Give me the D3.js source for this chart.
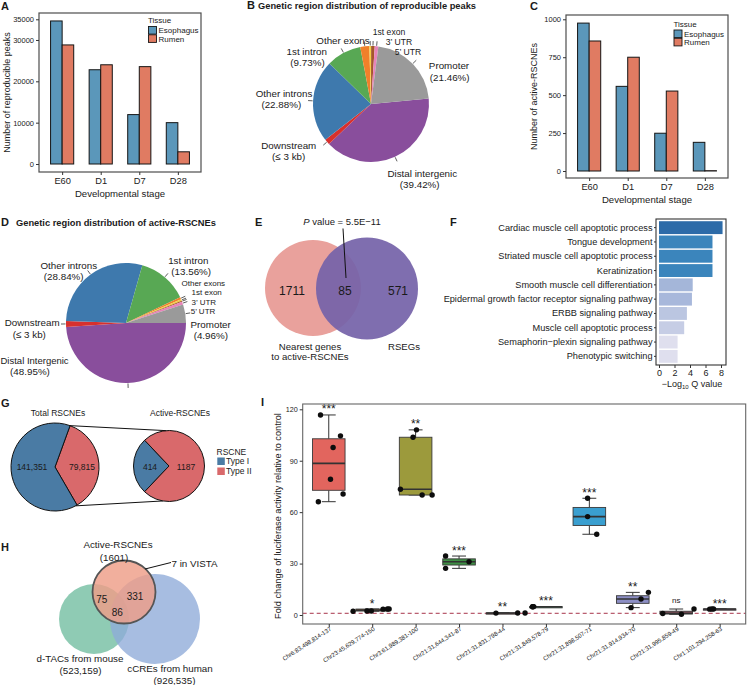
<!DOCTYPE html>
<html><head><meta charset="utf-8">
<script src="https://cdn.jsdelivr.net/npm/d3@7"></script>
<style>
body{margin:0;background:#fff}
svg{display:block}
text{font-family:"Liberation Sans",Arial,Helvetica,sans-serif;fill:#1a1a1a}
</style>
</head><body>
<svg id="c" width="754" height="685"></svg>
<script>
// ================= DATA =================
// A / C : bar charts
const stages = ["E60", "D1", "D7", "D28"];
const tissues = ["Esophagus", "Rumen"];
const peaksEsophagus = [34600, 22800, 11950, 10000];
const peaksRumen = [28800, 24000, 23550, 2950];
const peakTicks = [0, 10000, 20000, 30000, 35000];
const rscneEsophagus = [975, 558, 249, 189];
const rscneRumen = [857, 750, 527, 2];
const rscneTicks = [0, 250, 500, 750, 1000];

// B / D : genomic region pies
const regionNames = ["Distal intergenic", "Downstream", "Other introns", "1st intron", "Other exons", "1st exon", "3' UTR", "5' UTR", "Promoter"];
const peakRegionPct = [39.42, 1.5, 22.88, 9.73, 2.5, 0.5, 1.0, 1.0, 21.46];
const activeRegionPct = [48.95, 1.6, 28.84, 13.56, 0.6, 0.4, 0.3, 0.79, 4.96];

// E : Venn
const vennECounts = [1711, 85, 571];
const vennESets = ["Nearest genes|to active-RSCNEs", "RSEGs"];
const vennEP = "5.5E\u221211";

// F : GO enrichment
const goTerms = ["Cardiac muscle cell apoptotic process", "Tongue development", "Striated muscle cell apoptotic process", "Keratinization", "Smooth muscle cell differentiation", "Epidermal growth factor receptor signaling pathway", "ERBB signaling pathway", "Muscle cell apoptotic process", "Semaphorin\u2212plexin signaling pathway", "Phenotypic switching"];
const goLogQ = [8.2, 6.9, 6.9, 6.9, 4.35, 4.25, 3.6, 3.25, 2.4, 2.4];
const goTicks = [0, 2, 4, 6, 8];

// G : RSCNE types
const rscneTypes = ["Type I", "Type II"];
const totalRscne = [141351, 79815];
const activeRscne = [414, 1187];

// H : three-way Venn
const vennHSets = ["Active-RSCNEs|(1601)", "d-TACs from mouse|(523,159)", "cCREs from human|(926,535)"];
const vennHCounts = [75, 331, 86];
const vistaNote = "7 in VISTA";

// I : luciferase assay
const constructs = ["Chr6:83,498,814-137", "Chr23:45,629,774-150", "Chr3:61,989,381-100", "Chr21:31,644,341-87", "Chr21:31,831,798-44", "Chr21:31,849,578-79", "Chr21:31,898,507-71", "Chr21:31,914,934-70", "Chr21:31,995,859-49", "Chr1:101,294,258-63"];
const foldChange = [
  [116.7, 104.5, 97.7, 79.2, 70.6, 66.1],
  [2.2, 2.3, 2.3, 3.4, 3.5, 3.5],
  [108, 103.7, 73.4, 70, 70],
  [34.4, 31.1, 27.2],
  [1.1, 1.2, 1.2],
  [4.8, 4.85, 4.9],
  [68.1, 57.4, 47.1],
  [13.2, 9.3, 4.3],
  [0.9, 0.4, 3.5],
  [3.4, 3.5, 3.5]
];
const jitterUnits = [
  [-0.19, 0.27, 0.10, 0.04, 0.33, -0.24],
  [-0.44, -0.12, -0.02, 0.25, 0.35, 0.39],
  [0.02, -0.06, -0.35, 0.15, 0.38],
  [-0.31, 0.23, -0.31],
  [-0.15, 0.35, 0.52],
  [-0.31, -0.30, -0.28],
  [-0.04, -0.04, 0.17],
  [0.36, 0.19, -0.04],
  [-0.31, 0.12, 0.41],
  [-0.23, -0.14, -0.18]
];
const significance = ["***", "*", "**", "***", "**", "***", "***", "**", "ns", "***"];
const foldTicks = [0, 30, 60, 90, 120];
const controlLevel = 1;

// ================= STYLE =================
const tissueColors = ["#5b97ba", "#e07b62"];
const regionColors = ["#894e9c", "#d8302d", "#3e79ad", "#58a854", "#f0802a", "#f3cf45", "#a4572c", "#e784b9", "#9a9a9a"];
const typeColors = ["#4a7ba4", "#d9696b"];
const boxColors = ["#e2655e", "#c9853a", "#9c9a3c", "#3f8f45", "#a34a4a", "#4d9a6a", "#3a9fd0", "#8c8ec4", "#7d4d57", "#c06090"];
const FONT = '"Liberation Sans", Arial, Helvetica, sans-serif';

const svg = d3.select("#c");

function txt(g, x, y, s, o = {}) {
  const t = g.append("text").attr("x", x).attr("y", y).text(s)
    .attr("font-size", o.size || 9).attr("text-anchor", o.anchor || "start");
  if (o.weight) t.attr("font-weight", o.weight);
  if (o.style) t.attr("font-style", o.style);
  if (o.rotate != null) t.attr("transform", `rotate(${o.rotate},${x},${y})`);
  return t;
}
function styleAxis(ax, size) {
  ax.attr("font-family", FONT).attr("font-size", size);
  ax.selectAll("text").attr("fill", "#222");
  ax.selectAll("line").attr("stroke", "#333");
  ax.select(".domain").remove();
}

// ================= PANEL A / C =================
function barPanel(cfg) {
  const g = svg.append("g");
  const x = d3.scalePoint().domain(stages).range([cfg.x0, cfg.x1]).padding(0.6);
  const u = x.step();
  const y = d3.scaleLinear().domain([0, cfg.top]).range([cfg.yZero, cfg.yTop]);
  [cfg.eso, cfg.rum].forEach((vals, si) => {
    g.selectAll(null).data(stages).join("rect")
      .attr("x", d => x(d) - 0.3 * u + si * 0.3 * u)
      .attr("width", 0.3 * u)
      .attr("y", (d, i) => y(vals[i]))
      .attr("height", (d, i) => Math.max(0.3, y(0) - y(vals[i])))
      .attr("fill", tissueColors[si]).attr("stroke", "#151515").attr("stroke-width", 1);
  });
  g.append("rect").attr("x", cfg.x0).attr("y", cfg.fy0).attr("width", cfg.x1 - cfg.x0).attr("height", cfg.fy1 - cfg.fy0)
    .attr("fill", "none").attr("stroke", "#4d4d4d").attr("stroke-width", 1.2);
  const ay = g.append("g").attr("transform", `translate(${cfg.x0},0)`)
    .call(d3.axisLeft(y).tickValues(cfg.ticks).tickSize(3).tickPadding(2).tickFormat(d3.format("d")));
  styleAxis(ay, 7.5);
  const ax = g.append("g").attr("transform", `translate(0,${cfg.fy1})`)
    .call(d3.axisBottom(x).tickSize(3).tickPadding(2));
  styleAxis(ax, 9.3);
  ax.selectAll("text").attr("dy", "0.75em");
  txt(g, (cfg.x0 + cfg.x1) / 2, cfg.xTitleY, "Developmental stage", { size: 9.6, anchor: "middle" });
  txt(g, cfg.yTitleX, (cfg.fy0 + cfg.fy1) / 2, cfg.yTitle, { size: 9, anchor: "middle", rotate: -90 });
  txt(g, cfg.lx, cfg.ly, "Tissue", { size: 8 });
  tissues.forEach((t, i) => {
    g.append("rect").attr("x", cfg.lx + 0.5).attr("y", cfg.ly + 3.5 + i * 8.3).attr("width", 8).attr("height", 7.6)
      .attr("fill", tissueColors[i]).attr("stroke", "#151515").attr("stroke-width", 0.9);
    txt(g, cfg.lx + 10.5, cfg.ly + 10.3 + i * 8.3, t, { size: 8 });
  });
}
barPanel({ x0: 39, x1: 201, fy0: 13, fy1: 172, yZero: 164, yTop: 19.3, top: 35000, ticks: peakTicks,
  eso: peaksEsophagus, rum: peaksRumen, xTitleY: 196.5, yTitleX: 9.5, yTitle: "Number of reproducible peaks", lx: 148, ly: 23 });
barPanel({ x0: 566, x1: 728, fy0: 15, fy1: 178, yZero: 171, yTop: 19.3, top: 1000, ticks: rscneTicks,
  eso: rscneEsophagus, rum: rscneRumen, xTitleY: 203, yTitleX: 536.5, yTitle: "Number of active-RSCNEs", lx: 673.5, ly: 26.5 });

// panel letters
txt(svg, 1, 10, "A", { size: 11, weight: "bold" });
txt(svg, 530, 10, "C", { size: 11, weight: "bold" });
txt(svg, 1, 226, "D", { size: 11, weight: "bold" });
txt(svg, 255, 226, "E", { size: 11, weight: "bold" });
txt(svg, 450, 226, "F", { size: 11, weight: "bold" });
txt(svg, 1, 407, "G", { size: 11, weight: "bold" });
txt(svg, 1, 551, "H", { size: 11, weight: "bold" });
txt(svg, 261, 406, "I", { size: 11, weight: "bold" });

// ================= PANEL B / D =================
function regionPie(cfg) {
  const g = svg.append("g");
  const arcs = d3.pie().sort(null).value(d => d)
    .startAngle(cfg.start * Math.PI / 180).endAngle((cfg.start + 360) * Math.PI / 180)(cfg.values);
  const arc = d3.arc().innerRadius(0).outerRadius(cfg.r);
  g.append("g").attr("transform", `translate(${cfg.cx},${cfg.cy})`)
    .selectAll("path").data(arcs).join("path").attr("d", arc).attr("fill", (d, i) => regionColors[i]);
  arcs.forEach((a, i) => {
    const m = (a.startAngle + a.endAngle) / 2;
    const r1 = cfg.r + 0.5, r2 = cfg.r + 5;
    g.append("line")
      .attr("x1", cfg.cx + r1 * Math.sin(m)).attr("y1", cfg.cy - r1 * Math.cos(m))
      .attr("x2", cfg.cx + r2 * Math.sin(m)).attr("y2", cfg.cy - r2 * Math.cos(m))
      .attr("stroke", "#333").attr("stroke-width", 0.8);
  });
  cfg.labels.forEach(l => txt(g, l[1], l[2], l[0], { size: l[4] || 9.8, anchor: l[3] || "middle" }));
  txt(g, cfg.tx, cfg.ty, cfg.title, { size: 9.3, weight: "bold" });
}
const pct = v => `(${v.toFixed(2)}%)`;
regionPie({ cx: 371, cy: 104, r: 58, start: 84.6, values: peakRegionPct,
  tx: 258, ty: 9, title: "Genetic region distribution of reproducible peaks",
  labels: [["1st exon", 389, 35, "middle", 8.6], ["3\u2019 UTR", 399, 45, "middle", 8.6], ["5\u2019 UTR", 408, 55, "middle", 8.6], ["Other exons", 343, 44],
    ["1st intron", 306.7, 54.5], [pct(peakRegionPct[3]), 307.5, 66], ["Other introns", 284, 97], [pct(peakRegionPct[2]), 281.3, 108],
    ["Downstream", 288.8, 149], ["(\u2264 3 kb)", 288.7, 160], ["Distal intergenic", 422.3, 177], [pct(peakRegionPct[0]), 419.7, 188],
    ["Promoter", 449, 69], [pct(peakRegionPct[8]), 449.7, 81]] });
txt(svg, 247, 9, "B", { size: 11, weight: "bold" });
regionPie({ cx: 126, cy: 323, r: 60, start: 90, values: activeRegionPct,
  tx: 16, ty: 225.5, title: "Genetic region distribution of active-RSCNEs",
  labels: [["Other introns", 68.8, 268.5], [pct(activeRegionPct[2]), 63.7, 279.5], ["1st intron", 188.3, 263.5], [pct(activeRegionPct[3]), 191.2, 274.5],
    ["Other exons", 203.3, 286, "middle", 8], ["1st exon", 206.7, 295.4, "middle", 8], ["3\u2019 UTR", 203.8, 304.8, "middle", 8], ["5\u2019 UTR", 203, 314.2, "middle", 8],
    ["Promoter", 210.7, 327.5], [pct(activeRegionPct[8]), 210.8, 338.5], ["Downstream", 32.2, 326.2], ["(\u2264 3 kb)", 29.3, 337.5],
    ["Distal Intergenic", 0.5, 363.5, "start", 9.5], [pct(activeRegionPct[0]), 30, 375]] });

// ================= PANEL E =================
(function () {
  const g = svg.append("g");
  g.append("circle").attr("cx", 313).attr("cy", 288).attr("r", 48).attr("fill", "#e9a19c");
  g.append("circle").attr("cx", 367).attr("cy", 288.5).attr("r", 51).attr("fill", "#7563a9").attr("fill-opacity", 0.93);
  const xs = [292, 345, 398];
  vennECounts.forEach((c, i) => txt(g, xs[i], 294.5, String(c), { size: 12, anchor: "middle" }));
  const t = g.append("text").attr("x", 342).attr("y", 225).attr("font-size", 9.5).attr("text-anchor", "middle");
  t.append("tspan").attr("font-style", "italic").text("P");
  t.append("tspan").text(" value = " + vennEP);
  g.append("line").attr("x1", 343).attr("y1", 228.5).attr("x2", 346).attr("y2", 278).attr("stroke", "#111").attr("stroke-width", 1);
  const l1 = vennESets[0].split("|");
  txt(g, 310, 349.5, l1[0], { size: 9.6, anchor: "middle" });
  txt(g, 310, 360, l1[1], { size: 9.6, anchor: "middle" });
  txt(g, 404, 349.5, vennESets[1], { size: 9.6, anchor: "middle" });
})();

// ================= PANEL F =================
(function () {
  const g = svg.append("g");
  const x = d3.scaleLinear().domain([0, 8]).range([659, 721]);
  const y = d3.scaleBand().domain(goTerms).range([220.5, 363.5]).paddingInner(0.1).paddingOuter(0.05);
  const col = d3.scaleLinear().domain([2.4, 4.3, 6.9, 8.2]).range(["#dfdfee", "#a6b7da", "#3b85bc", "#2d6ba8"]);
  g.selectAll("rect.bar").data(goTerms).join("rect")
    .attr("x", x(0)).attr("y", d => y(d)).attr("height", y.bandwidth())
    .attr("width", (d, i) => x(goLogQ[i]) - x(0)).attr("fill", (d, i) => col(goLogQ[i]));
  g.append("rect").attr("x", 656).attr("y", 219).attr("width", 70).attr("height", 146)
    .attr("fill", "none").attr("stroke", "#333").attr("stroke-width", 1.1);
  const ax = g.append("g").attr("transform", "translate(0,365)").call(d3.axisBottom(x).tickValues(goTicks).tickSize(3).tickPadding(1.5));
  styleAxis(ax, 9);
  const ay = g.append("g").attr("transform", "translate(656,0)").call(d3.axisLeft(y).tickSize(2).tickPadding(1.5));
  styleAxis(ay, 9.2);
  const t = g.append("text").attr("x", 692).attr("y", 387).attr("font-size", 9).attr("text-anchor", "middle");
  t.append("tspan").text("\u2212Log");
  t.append("tspan").attr("font-size", 6).attr("dy", 2).text("10");
  t.append("tspan").attr("dy", -2).text(" Q value");
})();

// ================= PANEL G =================
(function () {
  const g = svg.append("g");
  const arc = d3.arc().innerRadius(0);
  function typePie(cx, cy, r, values, order, start) {
    const vals = order.map(i => values[i]);
    const arcs = d3.pie().sort(null).value(d => d)
      .startAngle(start * Math.PI / 180).endAngle((start + 360) * Math.PI / 180)(vals);
    const gg = g.append("g").attr("transform", `translate(${cx},${cy})`);
    gg.selectAll("path").data(arcs).join("path").attr("d", d => arc.outerRadius(r)(d))
      .attr("fill", (d, i) => typeColors[order[i]]).attr("stroke", "#111").attr("stroke-width", 1);
    return arcs;
  }
  typePie(55, 467, 44, totalRscne, [1, 0], 20);
  typePie(169, 466, 35.5, activeRscne, [0, 1], 223.5);
  const p = (cx, cy, r, deg) => [cx + r * Math.sin(deg * Math.PI / 180), cy - r * Math.cos(deg * Math.PI / 180)];
  const a1 = p(55, 467, 44, 20), b1 = p(169, 466, 35.5, -5);
  const a2 = p(55, 467, 44, 152), b2 = p(169, 466, 35.5, 190);
  [[a1, b1], [a2, b2]].forEach(([a, b]) => g.append("line").attr("x1", a[0]).attr("y1", a[1]).attr("x2", b[0]).attr("y2", b[1])
    .attr("stroke", "#111").attr("stroke-width", 1));
  const fmt = d3.format(",");
  txt(g, 32, 470, fmt(totalRscne[0]), { size: 8.5, anchor: "middle" });
  txt(g, 82, 470, fmt(totalRscne[1]), { size: 8.5, anchor: "middle" });
  txt(g, 150, 470, String(activeRscne[0]), { size: 8.5, anchor: "middle" });
  txt(g, 186, 470, String(activeRscne[1]), { size: 8.5, anchor: "middle" });
  txt(g, 58, 416, "Total RSCNEs", { size: 8.5, anchor: "middle" });
  txt(g, 180, 416, "Active-RSCNEs", { size: 8.5, anchor: "middle" });
  txt(g, 216.5, 454.5, "RSCNE", { size: 8.5 });
  rscneTypes.forEach((t, i) => {
    g.append("rect").attr("x", 217.3).attr("y", 457.5 + i * 10).attr("width", 7.5).attr("height", 7.5).attr("fill", typeColors[i]);
    txt(g, 226, 464.2 + i * 10, t, { size: 8.5 });
  });
})();

// ================= PANEL H =================
(function () {
  const g = svg.append("g");
  g.append("circle").attr("cx", 94).attr("cy", 619).attr("r", 35).attr("fill", "#8fcbb4");
  g.append("circle").attr("cx", 155).attr("cy", 619).attr("r", 45).attr("fill", "#8eaad8").attr("fill-opacity", 0.78);
  g.append("circle").attr("cx", 124).attr("cy", 592).attr("r", 31.5).attr("fill", "#ee9e88").attr("fill-opacity", 0.82)
    .attr("stroke", "#555").attr("stroke-width", 1.8);
  txt(g, 101.7, 602.5, String(vennHCounts[0]), { size: 10, anchor: "middle" });
  txt(g, 135, 599.5, String(vennHCounts[1]), { size: 10, anchor: "middle" });
  txt(g, 117.3, 615.5, String(vennHCounts[2]), { size: 10, anchor: "middle" });
  const s0 = vennHSets[0].split("|"), s1 = vennHSets[1].split("|"), s2 = vennHSets[2].split("|");
  txt(g, 118, 548, s0[0], { size: 9.8, anchor: "middle" });
  txt(g, 114, 560.5, s0[1], { size: 9.8, anchor: "middle" });
  txt(g, 80, 662, s1[0], { size: 9.8, anchor: "middle" });
  txt(g, 80.5, 673.5, s1[1], { size: 9.8, anchor: "middle" });
  txt(g, 170, 672, s2[0], { size: 9.8, anchor: "middle" });
  txt(g, 174.5, 683.5, s2[1], { size: 9.8, anchor: "middle" });
  g.append("line").attr("x1", 145).attr("y1", 569).attr("x2", 171).attr("y2", 562.5).attr("stroke", "#111").attr("stroke-width", 1);
  txt(g, 171.5, 567, vistaNote, { size: 9.8 });
})();

// ================= PANEL I =================
(function () {
  const g = svg.append("g");
  const X0 = 302.7, X1 = 745.7, Y0 = 404, Y1 = 624;
  const x = d3.scalePoint().domain(constructs).range([X0, X1]).padding(0.6);
  const u = x.step();
  const y = d3.scaleLinear().domain([0, 120]).range([615, 409.3]);
  g.append("line").attr("x1", X0).attr("x2", X1).attr("y1", y(controlLevel)).attr("y2", y(controlLevel))
    .attr("stroke", "#a8344a").attr("stroke-width", 1).attr("stroke-dasharray", "4,3");
  constructs.forEach((c, i) => {
    const v = foldChange[i].slice().sort(d3.ascending);
    const q1 = d3.quantile(v, 0.25), med = d3.quantile(v, 0.5), q3 = d3.quantile(v, 0.75);
    const iqr = q3 - q1;
    const lo = d3.min(v.filter(d => d >= q1 - 1.5 * iqr)), hi = d3.max(v.filter(d => d <= q3 + 1.5 * iqr));
    const cx = x(c), bw = 0.75 * u, cw = 0.32 * u;
    const gg = g.append("g");
    gg.append("line").attr("x1", cx).attr("x2", cx).attr("y1", y(hi)).attr("y2", y(q3)).attr("stroke", "#333").attr("stroke-width", 1);
    gg.append("line").attr("x1", cx).attr("x2", cx).attr("y1", y(q1)).attr("y2", y(lo)).attr("stroke", "#333").attr("stroke-width", 1);
    [hi, lo].forEach(w => gg.append("line").attr("x1", cx - cw / 2).attr("x2", cx + cw / 2).attr("y1", y(w)).attr("y2", y(w))
      .attr("stroke", "#333").attr("stroke-width", 1));
    gg.append("rect").attr("x", cx - bw / 2).attr("width", bw).attr("y", y(q3)).attr("height", Math.max(1.2, y(q1) - y(q3)))
      .attr("fill", boxColors[i]).attr("stroke", "#3a3a3a").attr("stroke-width", 0.9);
    gg.append("line").attr("x1", cx - bw / 2).attr("x2", cx + bw / 2).attr("y1", y(med)).attr("y2", y(med))
      .attr("stroke", "#333").attr("stroke-width", 1.6);
    gg.selectAll("circle").data(foldChange[i]).join("circle")
      .attr("cx", (d, k) => cx + jitterUnits[i][k] * u).attr("cy", d => y(d)).attr("r", 2.7).attr("fill", "#0d0d0d");
    const mx = d3.max(v);
    if (significance[i] === "ns") txt(gg, cx, y(mx) - 6, "ns", { size: 8, anchor: "middle" });
    else txt(gg, cx, y(mx) - 1.5, significance[i], { size: 12, anchor: "middle" });
  });
  g.append("rect").attr("x", X0).attr("y", Y0).attr("width", X1 - X0).attr("height", Y1 - Y0)
    .attr("fill", "none").attr("stroke", "#666").attr("stroke-width", 1.1);
  const ay = g.append("g").attr("transform", `translate(${X0},0)`)
    .call(d3.axisLeft(y).tickValues(foldTicks).tickSize(3).tickPadding(2));
  styleAxis(ay, 7.2);
  const ax = g.append("g").attr("transform", `translate(0,${Y1})`)
    .call(d3.axisBottom(x).tickSize(3).tickFormat(""));
  styleAxis(ax, 6);
  constructs.forEach(c => {
    txt(g, x(c) + 3, 630, c, { size: 6, anchor: "end", rotate: -33 });
  });
  txt(g, 281, (Y0 + Y1) / 2 + 2, "Fold change of luciferase activity relative to control", { size: 9.2, anchor: "middle", rotate: -90 });
})();
</script>
</body></html>
